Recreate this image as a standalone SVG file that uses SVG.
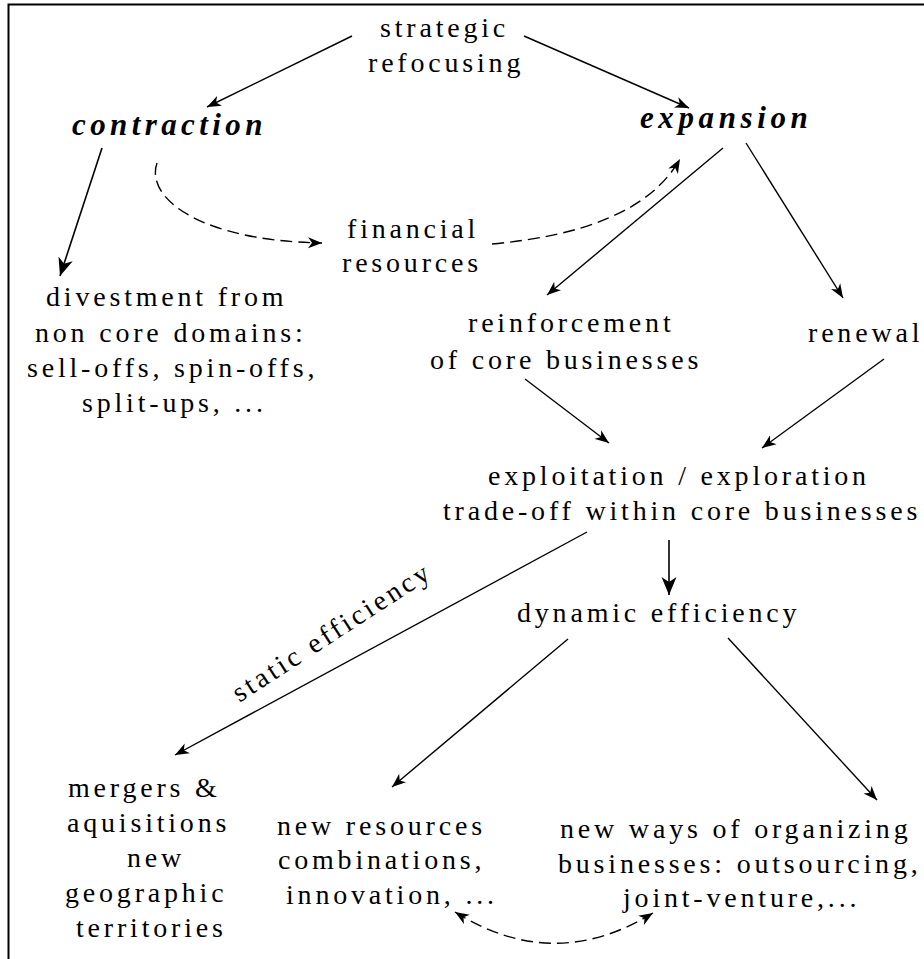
<svg xmlns="http://www.w3.org/2000/svg" width="924" height="959" viewBox="0 0 924 959">
<defs>
<marker id="ah" viewBox="-14 -6 15 12" refX="0" refY="0" markerWidth="15" markerHeight="12" markerUnits="userSpaceOnUse" orient="auto">
<path d="M0,0 L-14,-5.5 L-10,0 L-14,5.5 Z" fill="#000" stroke="none"/>
</marker>
<marker id="ahb" viewBox="-18 -8 19 16" refX="0" refY="0" markerWidth="19" markerHeight="16" markerUnits="userSpaceOnUse" orient="auto">
<path d="M0,0 L-18,-7.5 L-13,0 L-18,7.5 Z" fill="#000" stroke="none"/>
</marker>
<marker id="ahs" viewBox="-1 -6 15 12" refX="0" refY="0" markerWidth="15" markerHeight="12" markerUnits="userSpaceOnUse" orient="auto">
<path d="M0,0 L14,-5.5 L10,0 L14,5.5 Z" fill="#000" stroke="none"/>
</marker>
</defs>
<path d="M8.5,959 V4.5 H924" fill="none" stroke="#000" stroke-width="2"/>
<g id="connectors" fill="none" stroke="#000" stroke-width="1.4">
<line x1="352" y1="36" x2="207" y2="107" marker-end="url(#ah)"/>
<line x1="524" y1="36" x2="689" y2="108" marker-end="url(#ah)"/>
<line stroke-width="1.6" x1="102" y1="148" x2="60" y2="276" marker-end="url(#ahb)"/>
<path stroke-dasharray="12 6" d="M157,163 C145,198 200,241 322,243" marker-end="url(#ah)"/>
<path stroke-dasharray="12 6" d="M492,244 C580,236 650,212 680,159" marker-end="url(#ah)"/>
<line x1="723" y1="148" x2="547" y2="295" marker-end="url(#ah)"/>
<line x1="746" y1="143" x2="843" y2="298" marker-end="url(#ah)"/>
<line x1="525" y1="379" x2="609" y2="443" marker-end="url(#ah)"/>
<line x1="884" y1="359" x2="762" y2="448" marker-end="url(#ah)"/>
<line x1="587" y1="532" x2="175" y2="755" marker-end="url(#ah)"/>
<line stroke-width="1.6" x1="669" y1="540" x2="669" y2="595" marker-end="url(#ahb)"/>
<line x1="568" y1="639" x2="392" y2="787" marker-end="url(#ah)"/>
<line x1="728" y1="638" x2="877" y2="800" marker-end="url(#ah)"/>
<path stroke-dasharray="12 6" d="M455,912 Q554,974 653,913" marker-start="url(#ahs)" marker-end="url(#ah)"/>
<text stroke="none" fill="#000" font-family="Liberation Serif" font-size="28" x="221" y="640" dx="0 3.2 3.2 3.2 3.2 3.2 3.2 3.2 3.2 3.2 3.2 3.2 3.2 3.2 3.2 3.2 3.2" transform="rotate(-33 336 640)">static efficiency</text>
</g>
<g id="strategic">
<text font-family="Liberation Serif" font-size="28" x="380" y="37" dx="0 3.8 3.8 3.8 3.8 3.8 3.8 3.8 3.8 3.8">strategic</text>
<text font-family="Liberation Serif" font-size="28" x="368" y="72" dx="0 3.8 3.8 3.8 3.8 3.8 3.8 3.8 3.8 3.8 3.8">refocusing</text>
</g>
<g id="contraction"><text font-family="Liberation Serif" font-size="31" font-weight="bold" font-style="italic" x="72" y="135" dx="0 4.4 4.4 4.4 4.4 4.4 4.4 4.4 4.4 4.4 4.4">contraction</text></g>
<g id="expansion"><text font-family="Liberation Serif" font-size="31" font-weight="bold" font-style="italic" x="640" y="128" dx="0 4.6 4.6 4.6 4.6 4.6 4.6 4.6 4.6">expansion</text></g>
<g id="financial">
<text font-family="Liberation Serif" font-size="28" x="347" y="238" dx="0 3.8 3.8 3.8 3.8 3.8 3.8 3.8 3.8">financial</text>
<text font-family="Liberation Serif" font-size="28" x="342" y="272" dx="0 3.8 3.8 3.8 3.8 3.8 3.8 3.8 3.8">resources</text>
</g>
<g id="divestment">
<text font-family="Liberation Serif" font-size="28" x="46" y="306" dx="0 3.8 3.8 3.8 3.8 3.8 3.8 3.8 3.8 3.8 3.8 3.8 3.8 3.8 3.8">divestment from</text>
<text font-family="Liberation Serif" font-size="28" x="35" y="342" dx="0 3.8 3.8 3.8 3.8 3.8 3.8 3.8 3.8 3.8 3.8 3.8 3.8 3.8 3.8 3.8 3.8">non core domains:</text>
<text font-family="Liberation Serif" font-size="28" x="27" y="377" dx="0 3.8 3.8 3.8 3.8 3.8 3.8 3.8 3.8 3.8 3.8 3.8 3.8 3.8 3.8 3.8 3.8 3.8 3.8 3.8 3.8">sell-offs, spin-offs,</text>
<text font-family="Liberation Serif" font-size="28" x="82" y="412" dx="0 3.8 3.8 3.8 3.8 3.8 3.8 3.8 3.8 3.8 3.8 3.8 3.8 3.8">split-ups, ...</text>
</g>
<g id="reinforcement">
<text font-family="Liberation Serif" font-size="28" x="468" y="332" dx="0 3.8 3.8 3.8 3.8 3.8 3.8 3.8 3.8 3.8 3.8 3.8 3.8">reinforcement</text>
<text font-family="Liberation Serif" font-size="28" x="430" y="369" dx="0 3.8 3.8 3.8 3.8 3.8 3.8 3.8 3.8 3.8 3.8 3.8 3.8 3.8 3.8 3.8 3.8 3.8">of core businesses</text>
</g>
<g id="renewal"><text font-family="Liberation Serif" font-size="28" x="808" y="342" dx="0 3.8 3.8 3.8 3.8 3.8 3.8">renewal</text></g>
<g id="tradeoff">
<text font-family="Liberation Serif" font-size="28" x="488" y="485" dx="0 3.8 3.8 3.8 3.8 3.8 3.8 3.8 3.8 3.8 3.8 3.8 3.8 3.8 3.8 3.8 3.8 3.8 3.8 3.8 3.8 3.8 3.8 3.8 3.8 3.8">exploitation / exploration</text>
<text font-family="Liberation Serif" font-size="28" x="443" y="520" dx="0 3.8 3.8 3.8 3.8 3.8 3.8 3.8 3.8 3.8 3.8 3.8 3.8 3.8 3.8 3.8 3.8 3.8 3.8 3.8 3.8 3.8 3.8 3.8 3.8 3.8 3.8 3.8 3.8 3.8 3.8 3.8">trade-off within core businesses</text>
</g>
<g id="dynamic"><text font-family="Liberation Serif" font-size="28" x="517" y="622" dx="0 3.8 3.8 3.8 3.8 3.8 3.8 3.8 3.8 3.8 3.8 3.8 3.8 3.8 3.8 3.8 3.8 3.8">dynamic efficiency</text></g>
<g id="mergers">
<text font-family="Liberation Serif" font-size="28" x="68" y="797" dx="0 3.8 3.8 3.8 3.8 3.8 3.8 3.8 3.8">mergers &amp;</text>
<text font-family="Liberation Serif" font-size="28" x="67" y="832" dx="0 3.8 3.8 3.8 3.8 3.8 3.8 3.8 3.8 3.8 3.8">aquisitions</text>
<text font-family="Liberation Serif" font-size="28" x="127" y="867" dx="0 3.8 3.8">new</text>
<text font-family="Liberation Serif" font-size="28" x="65" y="902" dx="0 3.8 3.8 3.8 3.8 3.8 3.8 3.8 3.8 3.8">geographic</text>
<text font-family="Liberation Serif" font-size="28" x="76" y="937" dx="0 3.8 3.8 3.8 3.8 3.8 3.8 3.8 3.8 3.8 3.8">territories</text>
</g>
<g id="newresources">
<text font-family="Liberation Serif" font-size="28" x="277" y="835" dx="0 3.8 3.8 3.8 3.8 3.8 3.8 3.8 3.8 3.8 3.8 3.8 3.8">new resources</text>
<text font-family="Liberation Serif" font-size="28" x="278" y="869" dx="0 3.8 3.8 3.8 3.8 3.8 3.8 3.8 3.8 3.8 3.8 3.8 3.8">combinations,</text>
<text font-family="Liberation Serif" font-size="28" x="286" y="904" dx="0 3.8 3.8 3.8 3.8 3.8 3.8 3.8 3.8 3.8 3.8 3.8 3.8 3.8 3.8">innovation, ...</text>
</g>
<g id="newways">
<text font-family="Liberation Serif" font-size="28" x="560" y="838" dx="0 3.8 3.8 3.8 3.8 3.8 3.8 3.8 3.8 3.8 3.8 3.8 3.8 3.8 3.8 3.8 3.8 3.8 3.8 3.8 3.8 3.8">new ways of organizing</text>
<text font-family="Liberation Serif" font-size="28" x="558" y="873" dx="0 3.8 3.8 3.8 3.8 3.8 3.8 3.8 3.8 3.8 3.8 3.8 3.8 3.8 3.8 3.8 3.8 3.8 3.8 3.8 3.8 3.8 3.8 3.8">businesses: outsourcing,</text>
<text font-family="Liberation Serif" font-size="28" x="623" y="907" dx="0 3.8 3.8 3.8 3.8 3.8 3.8 3.8 3.8 3.8 3.8 3.8 3.8 3.8 3.8 3.8 3.8">joint-venture,...</text>
</g>
</svg>
